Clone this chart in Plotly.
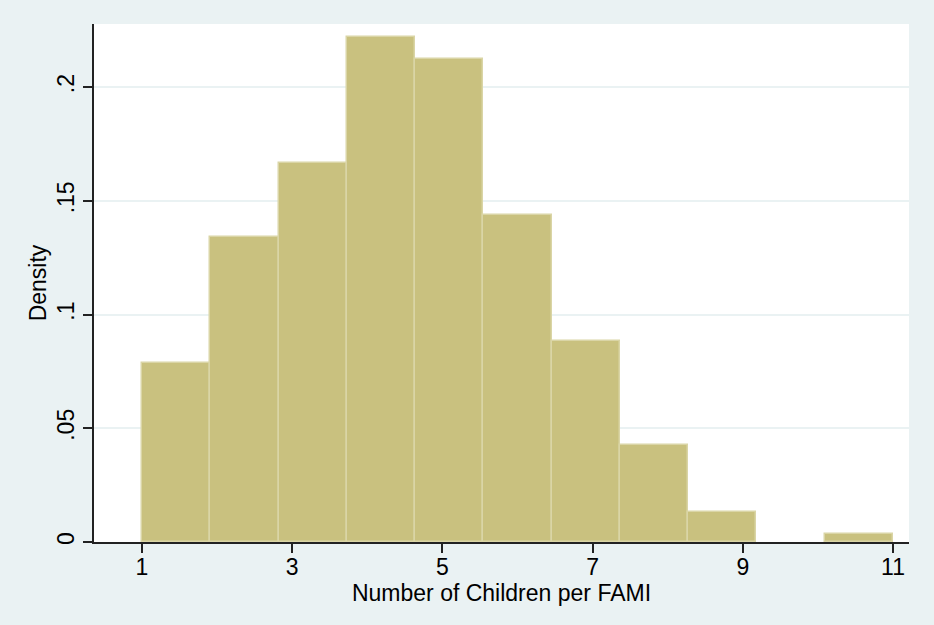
import plotly.graph_objects as go

# Histogram of children per family: 11 equal-width bins spanning 1..11
bin_start = 1.0
bin_end = 11.0
n_bins = 11
density = [0.0787, 0.1340, 0.1666, 0.2220, 0.2123, 0.1437, 0.0884, 0.0426, 0.0132, 0.0, 0.0035]

x_ticks = [1, 3, 5, 7, 9, 11]
y_ticks = [0, 0.05, 0.10, 0.15, 0.20]
y_tick_labels = ["0", ".05", ".1", ".15", ".2"]

width = (bin_end - bin_start) / n_bins
centers = [bin_start + width * (i + 0.5) for i in range(n_bins)]
# empty bins get no outline so nothing is drawn for them
outline_w = [1.5 if d > 0 else 0 for d in density]

bg = "#EAF2F3"
font = "Liberation Sans, Arial, sans-serif"
fs = 23

fig = go.Figure(
    go.Bar(
        x=centers,
        y=density,
        width=[width] * n_bins,
        marker=dict(color="#C9C17F", line=dict(color="#DAD5A6", width=outline_w)),
        hoverinfo="x+y",
    )
)

fig.update_layout(
    width=934,
    height=625,
    margin=dict(l=94, r=25, t=24, b=83),
    paper_bgcolor=bg,
    plot_bgcolor="white",
    showlegend=False,
    bargap=0,
    font=dict(family=font, size=fs, color="black"),
)

fig.update_xaxes(
    range=[0.361, 11.213],
    tickmode="array",
    tickvals=x_ticks,
    ticks="outside",
    ticklen=9,
    tickwidth=1.5,
    tickcolor="#222222",
    ticklabelstandoff=-5,
    showline=True,
    linecolor="#222222",
    linewidth=1.5,
    showgrid=False,
    zeroline=False,
    tickfont=dict(size=fs),
    title=dict(text="Number of Children per FAMI", font=dict(size=fs), standoff=0),
)

fig.update_yaxes(
    range=[0, 0.2277],
    tickmode="array",
    tickvals=y_ticks,
    ticktext=y_tick_labels,
    tickangle=-90,
    ticks="outside",
    ticklen=9,
    tickwidth=1.5,
    tickcolor="#222222",
    showline=True,
    linecolor="#222222",
    linewidth=1.5,
    showgrid=True,
    gridcolor=bg,
    gridwidth=1.5,
    zeroline=False,
    tickfont=dict(size=fs),
    title=dict(text="Density", font=dict(size=fs), standoff=0),
)

fig.write_html("out.html")
